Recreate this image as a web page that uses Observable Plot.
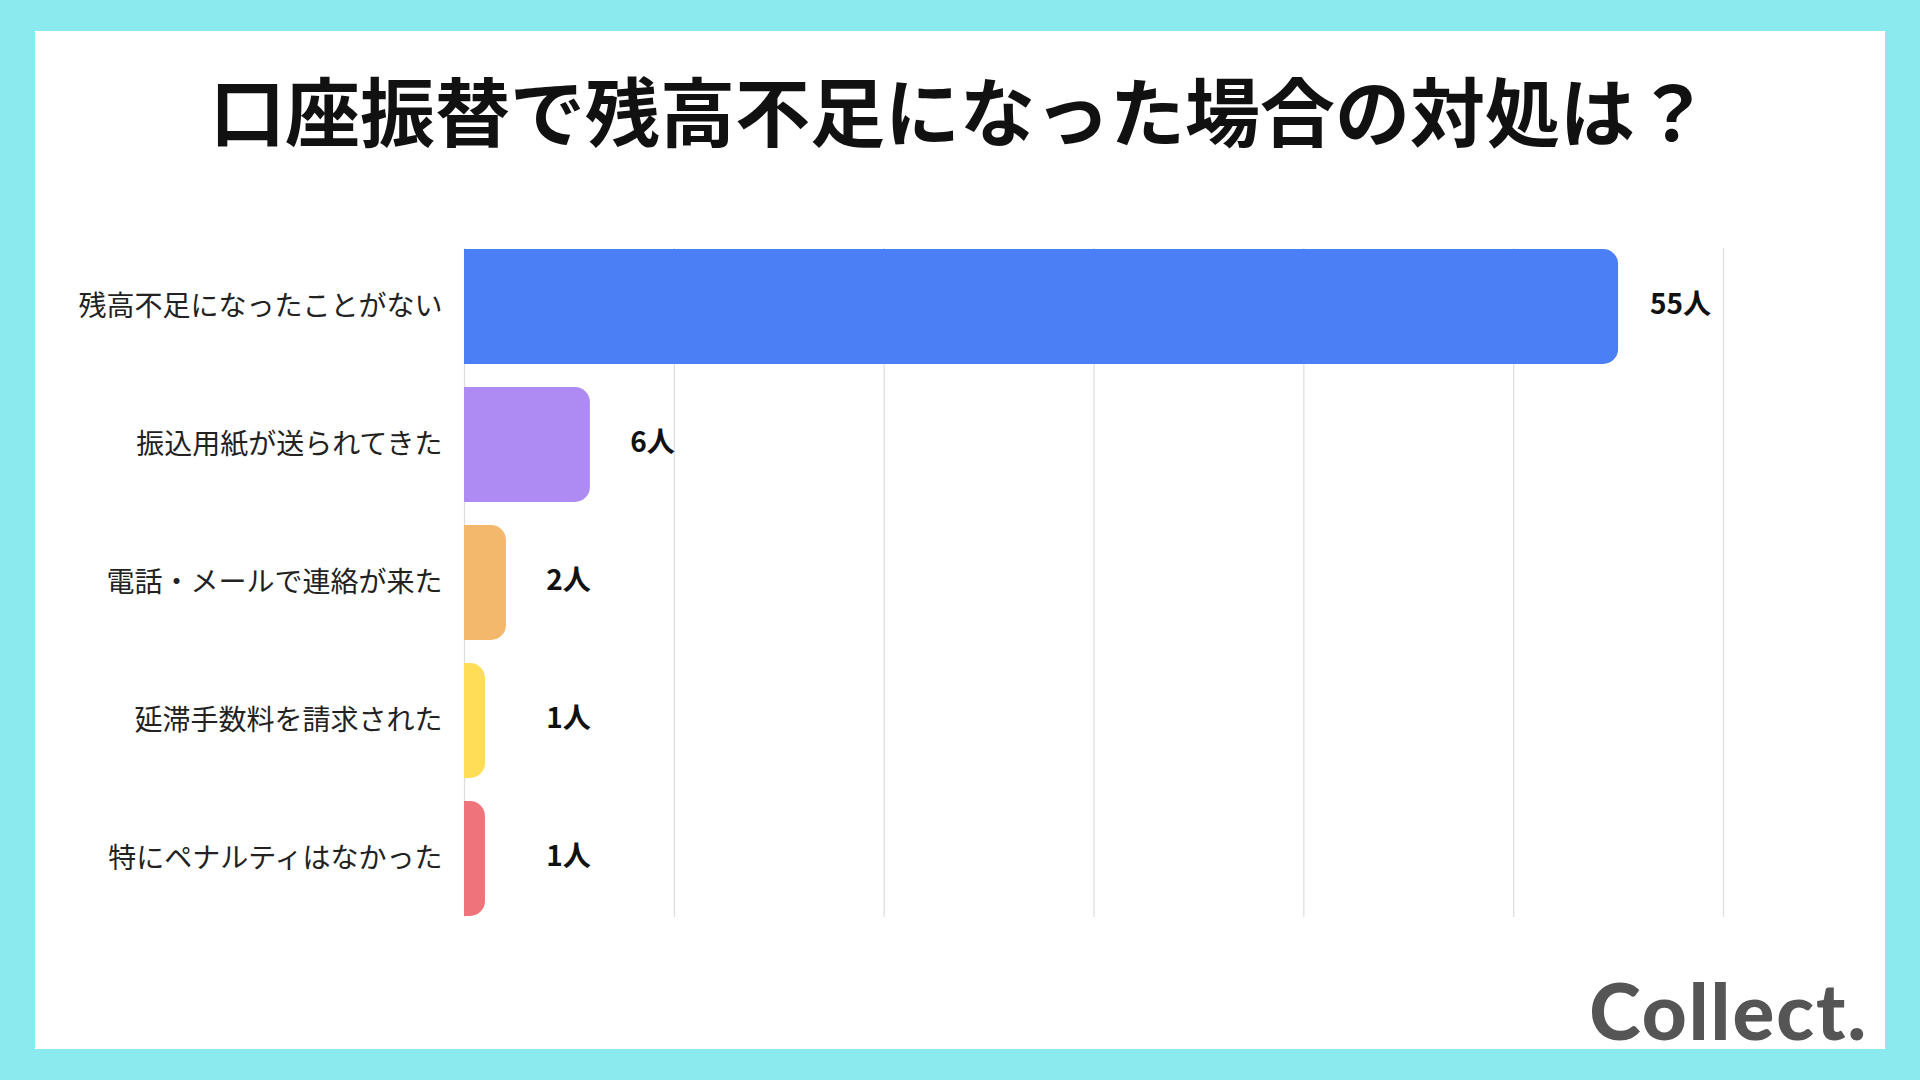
<!DOCTYPE html>
<html>
<head>
<meta charset="utf-8">
<script src="https://cdn.jsdelivr.net/npm/d3@7"></script>
<script src="https://cdn.jsdelivr.net/npm/@observablehq/plot@0.6"></script>
<style>
  html, body { margin: 0; padding: 0; }
  body { width: 1920px; height: 1080px; background: #8beaed; position: relative; overflow: hidden;
         font-family: "Noto Sans CJK JP", "Noto Sans", sans-serif; }
  #card { position: absolute; left: 35px; top: 31px; width: 1850px; height: 1018px; background: #ffffff; }
  #title { position: absolute; left: 0; top: 71px; width: 1920px; text-align: center;
           font-size: 75px; line-height: 75px; font-weight: 700; color: #111; margin: 0; }
  #chart { position: absolute; left: 0; top: 198px; }
  #logo { position: absolute; right: 52px; top: 971px; font-family: "Lato", sans-serif; font-weight: 900;
          font-size: 78px; line-height: 78px; color: #555555; letter-spacing: 2px; }
</style>
</head>
<body>
<div id="card"></div>
<h1 id="title">口座振替で残高不足になった場合の対処は？</h1>
<div id="chart"></div>
<div id="logo">Collect.</div>
<script>
const categories = [
  "残高不足になったことがない",
  "振込用紙が送られてきた",
  "電話・メールで連絡が来た",
  "延滞手数料を請求された",
  "特にペナルティはなかった"
];
const counts = [55, 6, 2, 1, 1];
const barColors = ["#4b7ff6", "#ae8bf3", "#f3b86c", "#ffdd57", "#ee737a"];
const unit = "人";
const gridTicks = [0, 10, 20, 30, 40, 50, 60];

const data = categories.map((c, i) => ({category: c, count: counts[i], color: barColors[i]}));

const chart = Plot.plot({
  width: 1920,
  height: 760,
  marginLeft: 464,
  marginRight: 197,
  marginTop: 50,
  marginBottom: 41,
  style: {
    fontFamily: '"Noto Sans CJK JP", "Noto Sans", sans-serif',
    fontSize: "28px",
    color: "#222",
    background: "transparent",
    overflow: "visible"
  },
  x: {domain: [0, 60], axis: null},
  y: {domain: categories, paddingInner: 0.17, paddingOuter: 0, label: null, tickSize: 0, tickPadding: 22},
  color: {type: "identity"},
  marks: [
    Plot.ruleX(gridTicks, {stroke: "#dddddd", strokeWidth: 1.2}),
    Plot.barX(data, {x: "count", y: "category", fill: "color", rx: 15, insetLeft: -24, clip: true}),
    Plot.text(data, {
      x: d => Math.max(d.count, 2),
      y: "category",
      text: d => d.count + unit,
      dx: 62,
      dy: -2,
      textAnchor: "middle",
      fontWeight: "bold",
      fill: "#111"
    })
  ]
});
document.getElementById("chart").appendChild(chart);
</script>
</body>
</html>
